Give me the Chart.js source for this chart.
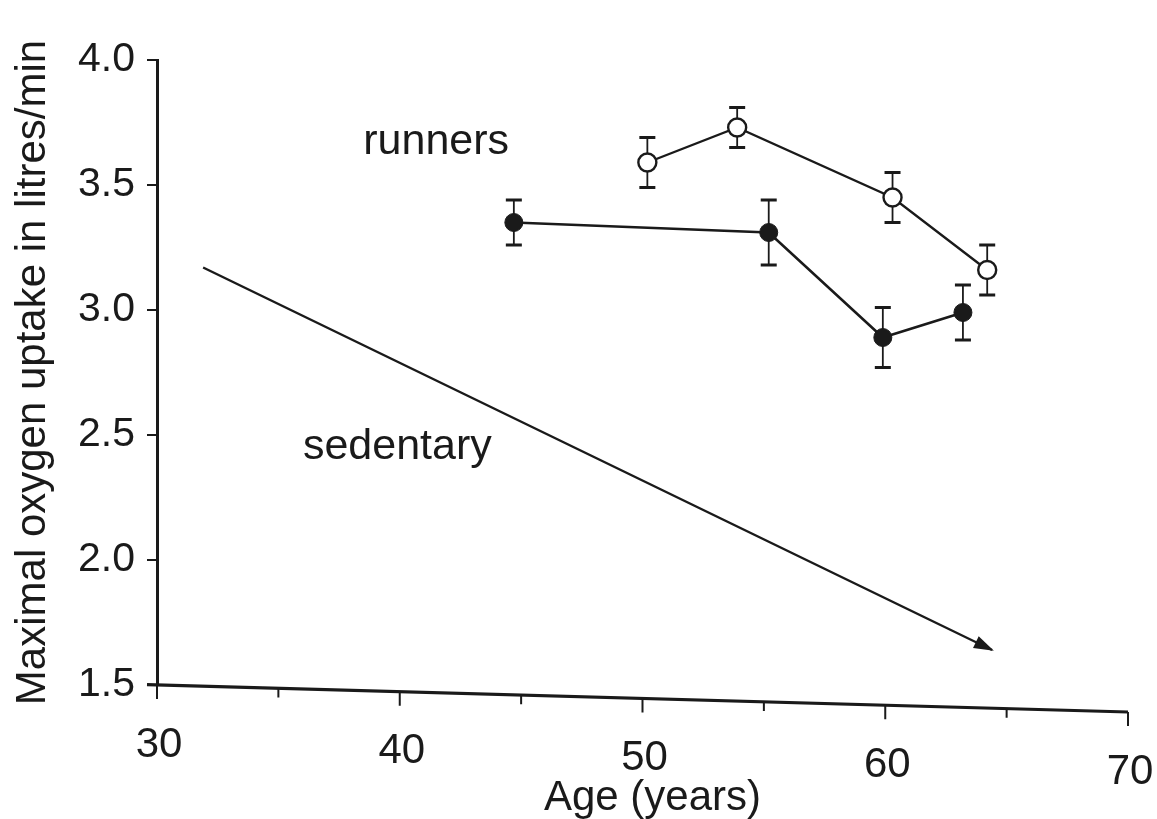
<!DOCTYPE html>
<html>
<head>
<meta charset="utf-8">
<script src="https://cdn.jsdelivr.net/npm/chart.js@4/dist/chart.umd.min.js"></script>
<style>
  html, body { margin: 0; padding: 0; background: #fff; }
  #wrap { width: 1157px; height: 819px; position: relative; }
</style>
</head>
<body>
<div id="wrap"><canvas id="c"></canvas></div>
<script>
// Runners, open circles: age (years), VO2max (l/min), standard error
const openAge = [50.2, 53.9, 60.3, 64.2];
const openVO2 = [3.59, 3.73, 3.45, 3.16];
const openErr = [0.10, 0.08, 0.10, 0.10];

// Runners, filled circles
const filledAge = [44.7, 55.2, 59.9, 63.2];
const filledVO2 = [3.35, 3.31, 2.89, 2.99];
const filledErr = [0.09, 0.13, 0.12, 0.11];

// Sedentary trend (arrow)
const sedentaryAge = [31.9, 64.4];
const sedentaryVO2 = [3.17, 1.64];

// Axis ticks
const xTicks = [30, 40, 50, 60, 70];
const xMinorTicks = [35, 45, 55, 65];
const yTicks = [1.5, 2.0, 2.5, 3.0, 3.5, 4.0];

// In-plot labels
const noteText = ['runners', 'sedentary'];
const noteAge = [41.5, 39.9];
const noteVO2 = [3.67, 2.45];

const INK = '#1a1a1a';
const FONT = "'Liberation Sans', Arial, Helvetica, sans-serif";
const AXIS_DROP = 27; // the age axis runs slightly downhill to the right

const toPoints = (xs, ys) => xs.map((x, i) => ({ x, y: ys[i] }));

const figurePlugin = {
  id: 'figure',
  beforeDatasetsDraw(chart) {
    const { ctx, scales: { x, y } } = chart;
    ctx.save();
    ctx.strokeStyle = INK;
    chart.data.datasets.forEach(ds => {
      if (!ds.errors) return;
      ds.data.forEach((p, i) => {
        const px = x.getPixelForValue(p.x);
        const top = y.getPixelForValue(p.y + ds.errors[i]);
        const bot = y.getPixelForValue(p.y - ds.errors[i]);
        ctx.lineWidth = 1.8;
        ctx.beginPath();
        ctx.moveTo(px, top); ctx.lineTo(px, bot);
        ctx.stroke();
        ctx.lineWidth = 3;
        ctx.beginPath();
        ctx.moveTo(px - 8, top); ctx.lineTo(px + 8, top);
        ctx.moveTo(px - 8, bot); ctx.lineTo(px + 8, bot);
        ctx.stroke();
      });
    });
    ctx.restore();
  },
  afterDatasetsDraw(chart) {
    const { ctx, scales: { x, y }, chartArea } = chart;
    ctx.save();

    // arrowhead at the end of the sedentary line
    const meta = chart.getDatasetMeta(2);
    const a = meta.data[meta.data.length - 2], b = meta.data[meta.data.length - 1];
    const ang = Math.atan2(b.y - a.y, b.x - a.x);
    ctx.fillStyle = INK;
    ctx.translate(b.x, b.y);
    ctx.rotate(ang);
    ctx.beginPath();
    ctx.moveTo(2, 0);
    ctx.lineTo(-18, -6.5);
    ctx.lineTo(-18, 6.5);
    ctx.closePath();
    ctx.fill();
    ctx.setTransform(1, 0, 0, 1, 0, 0);

    // in-plot labels
    ctx.font = `43px ${FONT}`;
    ctx.textAlign = 'center';
    ctx.textBaseline = 'middle';
    noteText.forEach((t, i) => {
      ctx.fillText(t, x.getPixelForValue(noteAge[i]), y.getPixelForValue(noteVO2[i]));
    });

    // age axis
    const x0 = x.getPixelForValue(xTicks[0]);
    const x1 = x.getPixelForValue(xTicks[xTicks.length - 1]);
    const base = chartArea.bottom;
    const yAt = px => base + AXIS_DROP * (px - x0) / (x1 - x0);
    ctx.strokeStyle = INK;
    ctx.lineWidth = 3.2;
    ctx.beginPath();
    ctx.moveTo(x0 - 10, yAt(x0 - 10));
    ctx.lineTo(x1, yAt(x1));
    ctx.stroke();
    ctx.lineWidth = 2;
    ctx.beginPath();
    xTicks.forEach(v => {
      const px = x.getPixelForValue(v);
      ctx.moveTo(px, yAt(px)); ctx.lineTo(px, yAt(px) + 14);
    });
    xMinorTicks.forEach(v => {
      const px = x.getPixelForValue(v);
      ctx.moveTo(px, yAt(px)); ctx.lineTo(px, yAt(px) + 9);
    });
    ctx.stroke();
    ctx.font = `42px ${FONT}`;
    ctx.textBaseline = 'middle';
    xTicks.forEach(v => {
      const px = x.getPixelForValue(v);
      ctx.fillText(String(v), px + 2, yAt(px) + 60);
    });
    const mid = (x0 + x1) / 2 + 10;
    ctx.fillText('Age (years)', mid, yAt(mid) + 100);
    ctx.restore();
  }
};

new Chart(document.getElementById('c'), {
  type: 'scatter',
  data: {
    datasets: [
      {
        label: 'runners (open)',
        data: toPoints(openAge, openVO2),
        errors: openErr,
        showLine: true,
        borderColor: INK,
        borderWidth: 2.4,
        pointRadius: 9,
        pointBackgroundColor: '#ffffff',
        pointBorderColor: INK,
        pointBorderWidth: 2.4
      },
      {
        label: 'runners (filled)',
        data: toPoints(filledAge, filledVO2),
        errors: filledErr,
        showLine: true,
        borderColor: INK,
        borderWidth: 2.6,
        pointRadius: 9,
        pointBackgroundColor: INK,
        pointBorderColor: INK,
        pointBorderWidth: 1
      },
      {
        label: 'sedentary',
        data: toPoints(sedentaryAge, sedentaryVO2),
        showLine: true,
        borderColor: INK,
        borderWidth: 2.4,
        pointRadius: 0
      }
    ]
  },
  options: {
    responsive: true,
    maintainAspectRatio: false,
    animation: false,
    events: [],
    layout: { padding: { left: 0, top: 60, right: 29, bottom: 134 } },
    plugins: { legend: { display: false }, tooltip: { enabled: false } },
    scales: {
      x: { type: 'linear', min: 30, max: 70, display: false },
      y: {
        type: 'linear',
        min: 1.5,
        max: 4.0,
        afterBuildTicks: s => { s.ticks = yTicks.map(v => ({ value: v })); },
        afterFit: s => { s.width = 157; },
        ticks: {
          color: INK,
          padding: 12,
          font: { family: FONT, size: 41 },
          callback: v => Number(v).toFixed(1)
        },
        grid: { drawOnChartArea: false, color: INK, lineWidth: 2, tickLength: 10 },
        border: { display: true, color: INK, width: 3 },
        title: {
          display: true,
          text: 'Maximal oxygen uptake in litres/min',
          color: INK,
          font: { family: FONT, size: 42 },
          padding: { top: 8, bottom: 0 }
        }
      }
    }
  },
  plugins: [figurePlugin]
});
</script>
</body>
</html>
